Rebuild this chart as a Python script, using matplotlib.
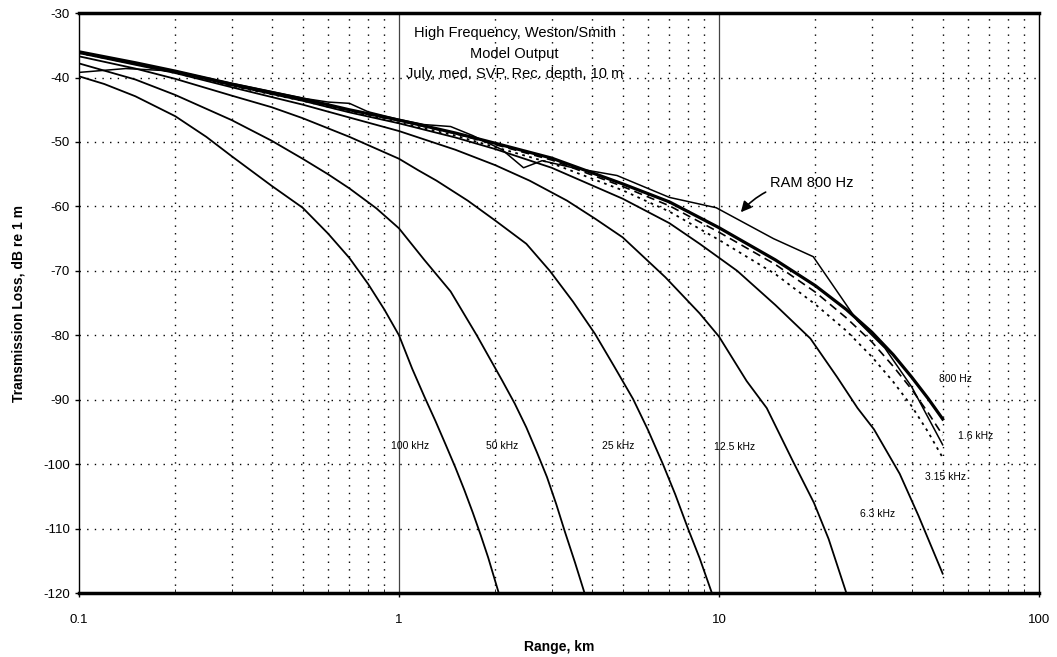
import matplotlib
matplotlib.use('Agg')
from matplotlib import pyplot as plt
from matplotlib.ticker import FixedLocator, NullFormatter

plt.rcParams['font.family'] = ['Liberation Sans', 'DejaVu Sans']
plt.rcParams['axes.unicode_minus'] = False

# ranges in km, transmission loss in dB re 1 m
r_800 = [0.1, 0.15, 0.2, 0.3, 0.5, 0.7, 1, 1.5, 2, 3, 5, 7, 10, 15, 20, 25, 30, 35, 40, 45, 50]
tl_800 = [-36.0, -37.7, -39.0, -41.0, -43.3, -45.0, -46.6, -48.6, -50.2, -52.5, -56.5, -59.3,
          -63.3, -68.3, -72.3, -76.0, -79.5, -83.0, -86.5, -89.8, -93.0]
tl_1600 = [-36.1, -37.8, -39.1, -41.1, -43.4, -45.1, -46.7, -48.7, -50.4, -52.8, -56.9, -59.9,
           -64.0, -69.0, -73.3, -77.3, -81.0, -84.8, -88.4, -92.0, -95.5]
tl_3150 = [-36.2, -37.9, -39.3, -41.3, -43.6, -45.3, -47.0, -49.0, -50.8, -53.3, -57.5, -60.8,
           -65.2, -70.5, -75.2, -79.3, -83.3, -87.2, -91.0, -95.0, -99.0]

r_6300 = [0.1, 0.2, 0.3, 0.5, 0.7, 1, 1.5, 2, 3, 5, 7, 8.7, 11.4, 15, 19.3, 23.4, 27.1, 30.5, 36.7, 42, 50]
tl_6300 = [-36.1, -39.1, -41.2, -43.6, -45.4, -47.1, -49.3, -51.1, -54.0, -58.8, -62.6, -65.8,
           -70.0, -75.3, -80.5, -86.5, -91.3, -94.6, -101.5, -108.0, -117.0]

r_12500 = [0.1, 0.2, 0.3, 0.5, 0.7, 1, 1.5, 2, 2.56, 3.35, 4.1, 5, 6.8, 8.7, 10, 12.2, 14.1, 17, 19.8, 22, 25]
tl_12500 = [-36.2, -39.3, -41.5, -44.2, -46.2, -48.3, -51.2, -53.6, -56.0, -59.1, -61.9, -64.8,
            -71.0, -76.6, -80.2, -87.1, -91.3, -99.5, -106.0, -111.6, -120.0]

r_25000 = [0.1, 0.15, 0.2, 0.3, 0.4, 0.5, 0.7, 1, 1.15, 1.31, 1.64, 2, 2.5, 2.96, 3.5, 4.1, 4.7,
           5.39, 6.0, 6.68, 7.3, 8.0, 8.7, 9.5]
tl_25000 = [-36.7, -38.6, -40.2, -42.8, -44.6, -46.3, -49.2, -52.6, -54.4, -56.0, -59.1, -62.2,
            -65.8, -70.0, -74.8, -79.8, -84.8, -89.9, -94.7, -100.0, -104.7, -110.0, -114.6, -120.0]

r_50000 = [0.1, 0.15, 0.2, 0.3, 0.4, 0.5, 0.6, 0.7, 0.85, 1.0, 1.2, 1.45, 1.75, 2.1, 2.3, 2.5,
           2.7, 2.9, 3.1, 3.3, 3.55, 3.8]
tl_50000 = [-37.8, -40.3, -42.7, -46.6, -49.8, -52.6, -55.0, -57.2, -60.3, -63.4, -68.3, -73.2,
            -80.0, -87.0, -90.6, -94.3, -98.2, -102.0, -106.2, -110.5, -115.3, -120.0]

r_100000 = [0.1, 0.12, 0.15, 0.2, 0.25, 0.3, 0.4, 0.5, 0.6, 0.7, 0.8, 0.9, 1.0, 1.1, 1.2, 1.3,
            1.4, 1.5, 1.6, 1.7, 1.8, 1.9, 2.05]
tl_100000 = [-39.8, -41.0, -42.9, -46.0, -49.2, -52.2, -56.8, -60.2, -64.2, -68.0, -72.0, -76.0,
             -80.0, -85.2, -89.5, -93.3, -97.0, -100.5, -104.0, -107.5, -111.0, -114.5, -120.0]

r_ram = [0.1, 0.14, 0.2, 0.3, 0.5, 0.6, 0.7, 0.8, 1, 1.2, 1.45, 1.7, 2.1, 2.45, 2.8, 3.5, 4.8, 7,
         9.8, 14.8, 19.7, 27, 33, 40, 50]
tl_ram = [-39.2, -38.6, -39.0, -40.9, -43.2, -43.8, -44.0, -45.3, -46.5, -47.3, -47.6, -49.0, -51.2,
          -54.0, -52.9, -54.0, -55.2, -58.6, -60.2, -65.0, -67.8, -77.7, -82.0, -88.0, -97.0]

labels = ['100 kHz', '50 kHz', '25 kHz', '12.5 kHz', '6.3 kHz', '3.15 kHz', '1.6 kHz', '800 Hz']
label_x = [1.08, 2.1, 4.83, 11.2, 31.2, 51.2, 63.4, 54.7]
label_y = [-97.2, -97.2, -97.2, -97.4, -107.8, -102.0, -95.7, -86.8]

title_lines = ['High Frequency, Weston/Smith', 'Model Output', 'July, med. SVP, Rec. depth, 10 m']

fig = plt.figure(figsize=(10.57, 6.57), dpi=100)
ax = fig.add_axes([0.0747, 0.0974, 0.9083, 0.8826])

ax.set_xscale('log')
ax.set_xlim(0.1, 100)
ax.set_ylim(-120, -30)

# grid: dotted everywhere, solid at the decades
minor = [m * d for d in (0.1, 1, 10) for m in range(2, 10)]
for xv in minor:
    ax.axvline(xv, color='black', lw=1.0, ls=(0, (1, 4.5)), zorder=1)
for xv in (1, 10):
    ax.axvline(xv, color='#444444', lw=0.9, zorder=1)
for yv in range(-110, -30, 10):
    ax.axhline(yv, color='black', lw=1.0, ls=(0, (1, 4.5)), zorder=1)

k = 'black'
ax.plot(r_100000, tl_100000, color=k, lw=1.3)
ax.plot(r_50000, tl_50000, color=k, lw=1.3)
ax.plot(r_25000, tl_25000, color=k, lw=1.3)
ax.plot(r_12500, tl_12500, color=k, lw=1.3)
ax.plot(r_6300, tl_6300, color=k, lw=1.3)
ax.plot(r_800, tl_3150, color=k, lw=1.3, ls=(0, (1.5, 2.5)))
ax.plot(r_800, tl_1600, color=k, lw=1.2, ls=(0, (5, 3)))
ax.plot(r_ram, tl_ram, color=k, lw=1.1)
ax.plot(r_800, tl_800, color=k, lw=2.3)

for t, xv, yv in zip(labels, label_x, label_y):
    ax.text(xv, yv, t, fontsize=7.5, ha='center', va='center')

ax.annotate('RAM 800 Hz', xy=(11.7, -60.9), xytext=(14.4, -56.4), fontsize=10.5,
            ha='left', va='center',
            arrowprops=dict(arrowstyle='-|>,head_length=0.6,head_width=0.3', color='black',
                            lw=1.2, connectionstyle='arc3,rad=0.25', shrinkA=1, shrinkB=0))

for i, line in enumerate(title_lines):
    ax.text(2.3, -33.1 - i * 3.2, line, fontsize=10.5, ha='center', va='center')

ax.xaxis.set_major_locator(FixedLocator([0.1, 1, 10, 100]))
ax.xaxis.set_minor_formatter(NullFormatter())
ax.set_xticklabels(['0.1', '1', '10', '100'])
ax.set_yticks(range(-120, -29, 10))
ax.tick_params(axis='both', labelsize=9.5, length=3, width=1, direction='out')
ax.tick_params(axis='x', which='minor', length=3, direction='in')
ax.tick_params(axis='x', pad=12)

ax.set_xlabel('Range, km', fontsize=10, fontweight='bold', labelpad=10)
ax.set_ylabel('Transmission Loss, dB re 1 m', fontsize=10, fontweight='bold', labelpad=13)

ax.spines['top'].set_linewidth(2.5)
ax.spines['bottom'].set_linewidth(2.5)
ax.spines['left'].set_linewidth(1.0)
ax.spines['right'].set_linewidth(1.0)

fig.savefig('out.png', dpi=100)
